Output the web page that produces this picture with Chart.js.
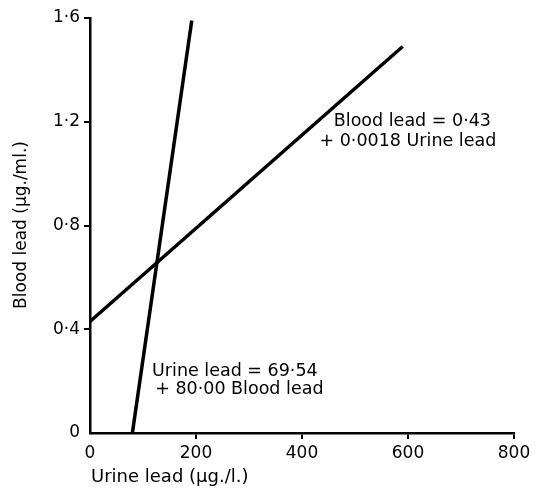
<!DOCTYPE html>
<html><head><meta charset="utf-8">
<script src="https://cdn.jsdelivr.net/npm/chart.js@4/dist/chart.umd.min.js"></script>
<style>html,body{margin:0;padding:0;background:#fff}#wrap{width:544px;height:489px}</style>
</head><body><div id="wrap"><canvas id="c" width="544" height="489"></canvas></div>
<script>
const xTickValues = [0, 200, 400, 600, 800];
const xTickLabels = ['0', '200', '400', '600', '800'];
const yTickValues = [0, 0.4, 0.8, 1.2, 1.6];
const yTickLabels = ['0', '0·4', '0·8', '1·2', '1·6'];
const bloodLineX = [0, 590];
const bloodLineY = [0.43, 1.49];
const urineLineX = [80, 192];
const urineLineY = [0, 1.59];
const xTitle = 'Urine lead (µg./l.)';
const yTitle = 'Blood lead (µg./ml.)';
const bloodEq = ['Blood lead = 0·43', '+ 0·0018 Urine lead'];
const urineEq = ['Urine lead = 69·54', '+ 80·00 Blood lead'];

const FONT = '"DejaVu Sans", sans-serif';
const pts = (xs, ys) => xs.map((x, i) => ({x, y: ys[i]}));

const textPlugin = {
  id: 'texts',
  afterDraw(chart) {
    const ctx = chart.ctx;
    const xs = chart.scales.x, ys = chart.scales.y;
    ctx.save();
    ctx.fillStyle = '#000';
    ctx.font = '17.5px ' + FONT;
    ctx.textBaseline = 'middle';
    ctx.textAlign = 'left';
    ctx.fillText(bloodEq[0], xs.getPixelForValue(460), ys.getPixelForValue(1.203));
    ctx.fillText(bloodEq[1], xs.getPixelForValue(433), ys.getPixelForValue(1.125));
    ctx.fillText(urineEq[0], xs.getPixelForValue(117), ys.getPixelForValue(0.236));
    ctx.fillText(urineEq[1], xs.getPixelForValue(123), ys.getPixelForValue(0.166));
    ctx.font = '18px ' + FONT;
    ctx.fillText(xTitle, xs.left + 1, 477);
    ctx.font = '17px ' + FONT;
    ctx.translate(22, 225);
    ctx.rotate(-Math.PI / 2);
    ctx.textAlign = 'center';
    ctx.fillText(yTitle, 0, 0);
    ctx.restore();
  }
};

new Chart(document.getElementById('c'), {
  type: 'line',
  data: {
    datasets: [
      {data: pts(bloodLineX, bloodLineY), borderColor: '#000', borderWidth: 3.5, pointRadius: 0, fill: false, tension: 0},
      {data: pts(urineLineX, urineLineY), borderColor: '#000', borderWidth: 3.5, pointRadius: 0, fill: false, tension: 0}
    ]
  },
  options: {
    responsive: false,
    animation: false,
    events: [],
    layout: {padding: {left: 0, right: 30, top: 18, bottom: 0}},
    plugins: {legend: {display: false}, tooltip: {enabled: false}},
    scales: {
      x: {
        type: 'linear', min: 0, max: 800,
        afterFit: s => { s.height = 56; },
        afterBuildTicks: s => { s.ticks = xTickValues.map(v => ({value: v})); },
        ticks: {color: '#000', padding: 4, font: {family: FONT, size: 17},
          maxRotation: 0, autoSkip: false,
          callback: (v) => xTickLabels[xTickValues.indexOf(v)]},
        grid: {drawOnChartArea: false, drawTicks: true, tickLength: 6, lineWidth: 2,
          color: c => c.tick && c.tick.value === 0 ? 'rgba(0,0,0,0)' : '#000'},
        border: {display: true, color: '#000', width: 2.5}
      },
      y: {
        type: 'linear', min: 0, max: 1.6,
        afterFit: s => { s.width = 90; },
        afterBuildTicks: s => { s.ticks = yTickValues.map(v => ({value: v})); },
        ticks: {color: '#000', padding: 4, font: {family: FONT, size: 17},
          autoSkip: false,
          callback: (v) => yTickLabels[yTickValues.findIndex(t => Math.abs(t - v) < 1e-9)]},
        grid: {drawOnChartArea: false, drawTicks: true, tickLength: 6, lineWidth: 2,
          color: c => c.tick && c.tick.value === 0 ? 'rgba(0,0,0,0)' : '#000'},
        border: {display: true, color: '#000', width: 2.5}
      }
    }
  },
  plugins: [textPlugin]
});
</script></body></html>
